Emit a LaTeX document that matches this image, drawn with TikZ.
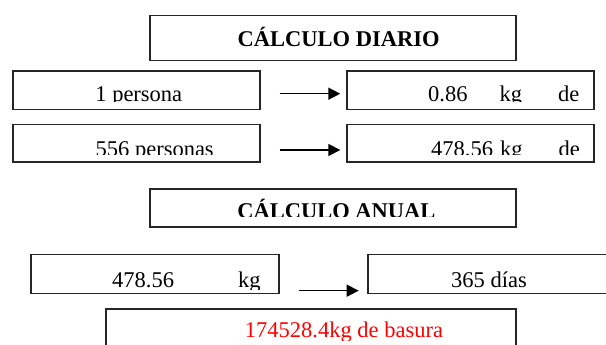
\documentclass[tikz,border=0pt]{standalone}
\usepackage{fontspec}
\setmainfont{Liberation Serif}
\usetikzlibrary{arrows.meta}
\tikzstyle{every node} = [font=\fontsize{22.5}{27}\selectfont]
\tikzstyle{caja} = [draw=black!85, line width=1.2pt, inner sep=0pt]
\tikzstyle{texto} = [anchor=base, inner sep=0pt]
\tikzstyle{flecha} = [line width=1.5pt, -{Triangle[length=12pt, width=12pt]}]

% caja, margen, opciones, nombre, lugar, texto
\newcommand{\recorte}[6]{%
  \begin{scope}
    \clip (#1.north west) rectangle ([yshift=#2]#1.south east);
    \node[texto, #3] (#4) at (#5) {#6};
  \end{scope}}

\begin{document}
\begin{tikzpicture}[x=1pt, y=-1pt]
    \useasboundingbox (0,0) rectangle (606,345);

    % calculo diario
    \node[caja, minimum width=366pt, minimum height=45pt] (diario) at (333,38.2) {};
    \node[texto] (tdiario) at (338.6,47) {\bfseries CÁLCULO DIARIO};
    \node[caja, minimum width=247pt, minimum height=38.6pt] (uno) at (136.4,90.3) {};
    \node[caja, minimum width=247pt, minimum height=38.6pt] (kguno) at (470.4,90.3) {};
    \node[caja, minimum width=247pt, minimum height=37.7pt] (todos) at (136.4,143.2) {};
    \node[caja, minimum width=247pt, minimum height=37.7pt] (kgtodos) at (470.4,143.2) {};
    \recorte{uno}{8.8pt}{}{tuno}{138.8,102}{1 persona}
    \recorte{kguno}{9pt}{anchor=base west}{tkguno}{428,102}{0.86\hspace{32pt}kg\hspace{36pt}de}
    \recorte{todos}{8pt}{}{ttodos}{154.7,157}{556 personas}
    \recorte{kgtodos}{8pt}{anchor=base west}{tkgtodos}{431,157}{478.56\hspace{7pt}kg\hspace{36pt}de}
    \draw[flecha] ([shift={(19,3.4)}]uno.east) -- ([shift={(-6,3.4)}]kguno.west);
    \draw[flecha] ([shift={(19,6.8)}]todos.east) -- ([shift={(-6,6.8)}]kgtodos.west);

    % calculo anual
    \node[caja, minimum width=366pt, minimum height=38pt] (anual) at (333,208) {};
    \recorte{anual}{11pt}{}{tanual}{336.4,218.5}{\bfseries CÁLCULO ANUAL}
    \node[caja, minimum width=248pt, minimum height=39pt] (kganual) at (155,273.8) {};
    \node[caja, minimum width=244pt, minimum height=39pt] (dias) at (490,273.8) {};
    \recorte{kganual}{4.3pt}{anchor=base west}{tkganual}{112,287}{478.56\hspace{64pt}kg}
    \recorte{dias}{4.3pt}{}{tdias}{489,287}{365 días}
    \draw[flecha] ([shift={(19.3,16.9)}]kganual.east) -- ([shift={(-8.7,16.9)}]dias.west);
    \node[caja, minimum width=410pt, minimum height=41pt] (basura) at (311,329.5) {};
    \recorte{basura}{10pt}{text=red}{tbasura}{344,337.5}{174528.4kg de basura}
\end{tikzpicture}
\end{document}
